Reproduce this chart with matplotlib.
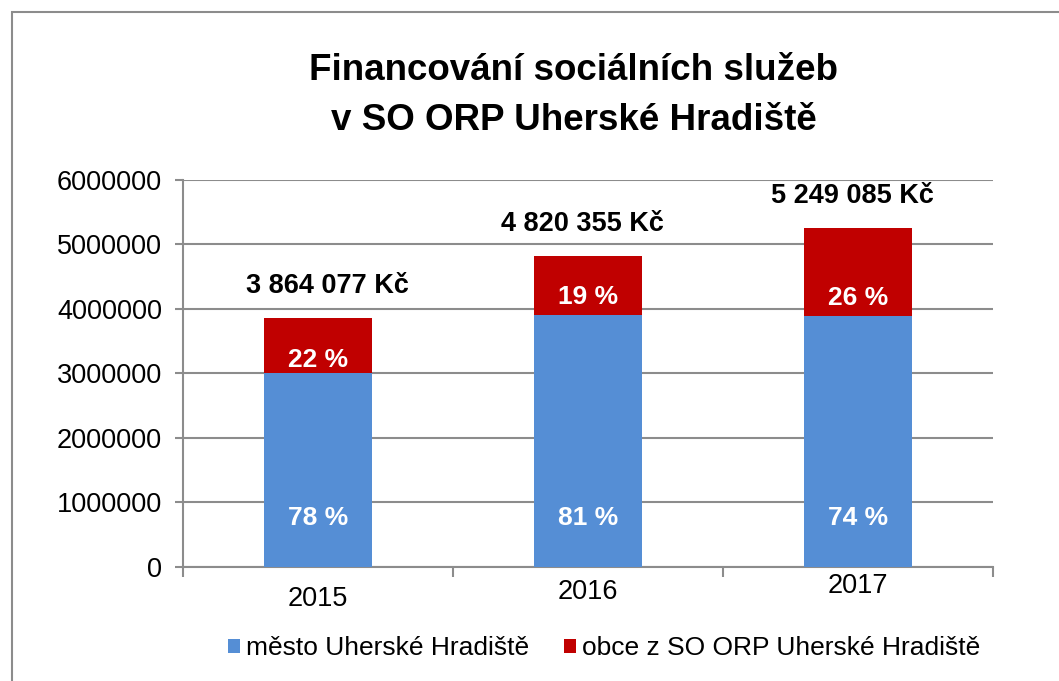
import matplotlib
matplotlib.use("Agg")
import matplotlib.pyplot as plt
import matplotlib.patches as mpatches
from matplotlib.ticker import FixedLocator

plt.rcParams['font.family'] = ['Liberation Sans', 'DejaVu Sans']

# data
years = ["2015", "2016", "2017"]
mesto = [3014000, 3904000, 3884000]          # město Uherské Hradiště
obce = [850077, 916355, 1365085]             # obce z SO ORP Uherské Hradiště
totals = ["3 864 077 Kč", "4 820 355 Kč", "5 249 085 Kč"]
pct_mesto = ["78 %", "81 %", "74 %"]
pct_obce = ["22 %", "19 %", "26 %"]
yticks = [0, 1000000, 2000000, 3000000, 4000000, 5000000, 6000000]

BLUE = '#558ED5'
RED = '#C00000'
GRID = '#8C8C8C'

fig = plt.figure(figsize=(10.59, 6.81), dpi=100)
ax = fig.add_axes([0.1728, 0.1674, 0.7649, 0.5683])

# outer chart frame
fig.patches.append(mpatches.Rectangle((12 / 1059, -0.1), 2, 1 - 12 / 681 + 0.1,
                                      transform=fig.transFigure, fill=False,
                                      edgecolor='#8C8C8C', linewidth=1.5))

x = list(range(len(years)))
ax.bar(x, mesto, width=0.4, color=BLUE, label='město Uherské Hradiště', zorder=3)
ax.bar(x, obce, width=0.4, bottom=mesto, color=RED,
       label='obce z SO ORP Uherské Hradiště', zorder=3)

ax.set_xlim(-0.5, 2.5)
ax.set_ylim(0, 6000000)
ax.set_yticks(yticks)
ax.set_yticklabels([str(v) for v in yticks], fontsize=19.5)
ax.yaxis.grid(True, color=GRID, linewidth=1.5, zorder=0)
ax.tick_params(axis='y', length=6, width=1.5, color=GRID, pad=9)

ax.set_xticks([])
ax.xaxis.set_minor_locator(FixedLocator([-0.5, 0.5, 1.5, 2.5]))
ax.tick_params(axis='x', which='minor', length=7, width=1.5, color=GRID)

for s in ['top', 'right']:
    ax.spines[s].set_visible(False)
for s in ['left', 'bottom']:
    ax.spines[s].set_color(GRID)
    ax.spines[s].set_linewidth(1.5)

# year labels (slightly staggered as in the original)
year_drop = [23, 18, 14]
for i, yr in enumerate(years):
    ax.annotate(yr, (i, 0), xycoords='data', xytext=(0, -year_drop[i]),
                textcoords='offset points', ha='center', va='center', fontsize=19.5)

red_lift = [9, 13, 13]
total_shift = [7, -4, -4]
for i in x:
    top = mesto[i] + obce[i]
    ax.annotate(totals[i], (i, top), xytext=(total_shift[i], 23), textcoords='offset points',
                ha='center', va='center', fontsize=19.5, fontweight='bold', zorder=5)
    ax.annotate(pct_mesto[i], (i, 0), xytext=(0, 35), textcoords='offset points',
                ha='center', va='center', fontsize=19, fontweight='bold',
                color='white', zorder=5)
    ax.annotate(pct_obce[i], (i, mesto[i]), xytext=(0, red_lift[i]),
                textcoords='offset points', ha='center', va='center', fontsize=19,
                fontweight='bold', color='white', zorder=5)

fig.text(0.542, 0.86, "Financování sociálních služeb\nv SO ORP Uherské Hradiště",
         ha='center', va='center', fontsize=26.5, fontweight='bold', linespacing=1.56)

fig.legend(loc='center', bbox_to_anchor=(0.5705, 0.048), ncol=2, frameon=False,
           fontsize=19, handlelength=0.45, handleheight=0.45, handletextpad=0.25,
           columnspacing=1.3)

fig.savefig('out.png', dpi=100)
